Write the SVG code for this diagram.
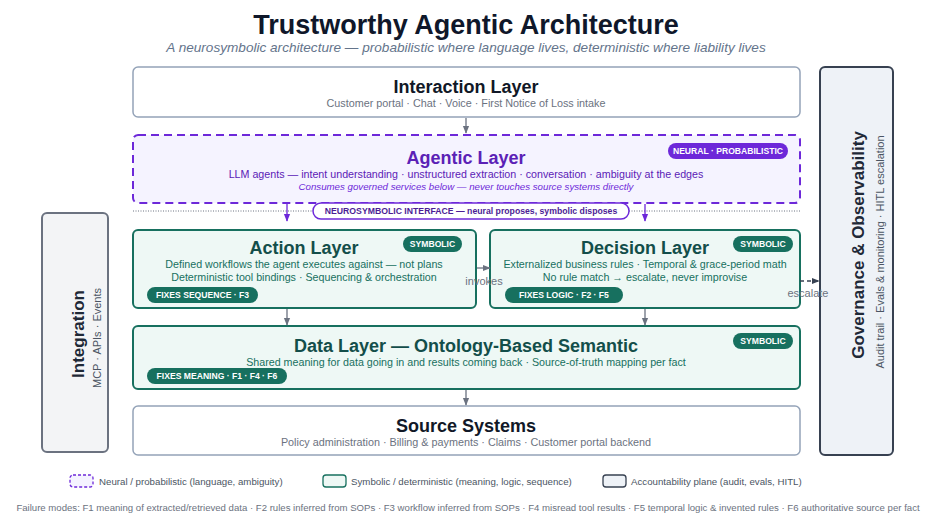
<svg xmlns="http://www.w3.org/2000/svg" width="935" height="526" viewBox="0 0 935 526">
<style>
text{font-family:"Liberation Sans",Arial,sans-serif}
.title{font-size:27px;font-weight:bold;fill:#0f172a;text-anchor:middle}
.subtitle{font-size:13.6px;font-style:italic;fill:#64748b;text-anchor:middle}
.plain{fill:#ffffff;stroke:#94a3b8;stroke-width:1.5}
.ptitle{font-size:18px;font-weight:bold;fill:#111827;text-anchor:middle}
.psub{font-size:10.8px;fill:#6b7280;text-anchor:middle}
.neural{fill:#f5f3ff;stroke:#6d28d9;stroke-width:2;stroke-dasharray:8 5}
.ntitle{font-size:18px;font-weight:bold;fill:#5b21b6;text-anchor:middle}
.nsub{font-size:10.7px;fill:#5b21b6;text-anchor:middle}
.nital{font-size:9.7px;font-style:italic;fill:#6d28d9;text-anchor:middle}
.sym{fill:#eef8f5;stroke:#17705f;stroke-width:2}
.stitle{font-size:18px;font-weight:bold;fill:#134e4a;text-anchor:middle}
.ssub{font-size:10.7px;fill:#17705f;text-anchor:middle}
.spill{fill:#17705f}
.pilltxt{font-size:8.6px;font-weight:bold;fill:#ffffff;text-anchor:middle}
.gov{fill:#eef2f7;stroke:#374151;stroke-width:2}
.integ{fill:#f3f4f6;stroke:#6b7280;stroke-width:2}
.vtitle{font-size:17px;font-weight:bold;fill:#1f2937;text-anchor:middle}
.vsub{font-size:11px;fill:#4b5563;text-anchor:middle}
.conn{stroke:#6b7280;stroke-width:1.3;fill:none}
.nconn{stroke:#6d28d9;stroke-width:1.3;fill:none}
.clabel{font-size:11px;fill:#6b7280;text-anchor:middle}
.legend{font-size:9.7px;fill:#4b5563}
.foot{font-size:9.6px;fill:#6b7280;text-anchor:middle}
</style>
<defs>
<marker id="ag" viewBox="0 0 10 10" refX="9" refY="5" markerWidth="6" markerHeight="6" orient="auto"><path d="M0,1 L10,5 L0,9 z" fill="#6b7280"/></marker>
<marker id="ap" viewBox="0 0 10 10" refX="9" refY="5" markerWidth="6" markerHeight="6" orient="auto"><path d="M0,1 L10,5 L0,9 z" fill="#6d28d9"/></marker>
<marker id="ad" viewBox="0 0 10 10" refX="9" refY="5" markerWidth="6" markerHeight="6" orient="auto"><path d="M0,1 L10,5 L0,9 z" fill="#374151"/></marker>
</defs>
<rect width="935" height="526" fill="#ffffff"/>
<text class="title" x="466" y="34">Trustworthy Agentic Architecture</text>
<text class="subtitle" x="466" y="52">A neurosymbolic architecture — probabilistic where language lives, deterministic where liability lives</text>

<g id="interaction">
<rect class="plain" x="133" y="67" width="667" height="50" rx="5"/>
<text class="ptitle" x="466" y="93">Interaction Layer</text>
<text class="psub" x="466" y="107">Customer portal · Chat · Voice · First Notice of Loss intake</text>
</g>

<g id="agentic">
<rect class="neural" x="133" y="135" width="667" height="68" rx="5"/>
<text class="ntitle" x="466" y="164">Agentic Layer</text>
<text class="nsub" x="466" y="178">LLM agents — intent understanding · unstructured extraction · conversation · ambiguity at the edges</text>
<text class="nital" x="466" y="190">Consumes governed services below — never touches source systems directly</text>
<rect x="668" y="143" width="120" height="16" rx="8" fill="#6d28d9"/>
<text class="pilltxt" x="728" y="154.3">NEURAL · PROBABILISTIC</text>
</g>

<g id="action">
<rect class="sym" x="133" y="230" width="343" height="78" rx="5"/>
<text class="stitle" x="304" y="254">Action Layer</text>
<text class="ssub" x="304" y="268">Defined workflows the agent executes against — not plans</text>
<text class="ssub" x="304" y="281">Deterministic tool bindings · Sequencing &amp; orchestration</text>
<rect class="spill" x="403" y="236" width="59" height="16" rx="8"/>
<text class="pilltxt" x="432.5" y="247.3">SYMBOLIC</text>
<rect class="spill" x="147" y="287" width="111" height="16" rx="8"/>
<text class="pilltxt" x="202.5" y="298.3">FIXES SEQUENCE · F3</text>
</g>

<g id="decision">
<rect class="sym" x="490" y="230" width="310" height="78" rx="5"/>
<text class="stitle" x="645" y="254">Decision Layer</text>
<text class="ssub" x="645" y="268">Externalized business rules · Temporal &amp; grace-period math</text>
<text class="ssub" x="645" y="281">No rule match → escalate, never improvise</text>
<rect class="spill" x="733" y="236" width="60" height="16" rx="8"/>
<text class="pilltxt" x="763" y="247.3">SYMBOLIC</text>
<rect class="spill" x="505" y="287" width="118" height="16" rx="8"/>
<text class="pilltxt" x="564" y="298.3">FIXES LOGIC · F2 · F5</text>
</g>

<g id="data">
<rect class="sym" x="133" y="326" width="667" height="63" rx="5"/>
<text class="stitle" x="466" y="352" font-size="17.5">Data Layer — Ontology-Based Semantic</text>
<text class="ssub" x="466" y="366">Shared meaning for data going in and results coming back · Source-of-truth mapping per fact</text>
<rect class="spill" x="733" y="333" width="60" height="16" rx="8"/>
<text class="pilltxt" x="763" y="344.3">SYMBOLIC</text>
<rect class="spill" x="147" y="368" width="140" height="16" rx="8"/>
<text class="pilltxt" x="217" y="379.3">FIXES MEANING · F1 · F4 · F6</text>
</g>

<g id="source">
<rect class="plain" x="133" y="406" width="667" height="49" rx="5"/>
<text class="ptitle" x="466" y="432">Source Systems</text>
<text class="psub" x="466" y="446">Policy administration · Billing &amp; payments · Claims · Customer portal backend</text>
</g>

<g id="integration">
<rect class="integ" x="42" y="213" width="66" height="239" rx="5"/>
<text class="vtitle" transform="translate(84,334) rotate(-90)">Integration</text>
<text class="vsub" transform="translate(101,338) rotate(-90)">MCP · APIs · Events</text>
</g>

<g id="governance">
<rect class="gov" x="820" y="67" width="73" height="388" rx="5"/>
<text class="vtitle" font-size="18.5" transform="translate(864,245) rotate(-90)">Governance &amp; Observability</text>
<text class="vsub" transform="translate(884,252) rotate(-90)">Audit trail · Evals &amp; monitoring · HITL escalation</text>
</g>

<g id="interface">
<line x1="133" y1="211" x2="313" y2="211" stroke="#6b7280" stroke-width="1" stroke-dasharray="1 1.5"/>
<line x1="629" y1="211" x2="800" y2="211" stroke="#6b7280" stroke-width="1" stroke-dasharray="1 1.5"/>
<rect x="313" y="203" width="316" height="16" rx="8" fill="#ffffff" stroke="#6d28d9" stroke-width="1.5"/>
<text x="471" y="214.3" font-size="8.7" font-weight="bold" fill="#4c1d95" text-anchor="middle">NEUROSYMBOLIC INTERFACE — neural proposes, symbolic disposes</text>
</g>

<g id="connectors">
<line class="conn" x1="466" y1="118" x2="466" y2="133" marker-end="url(#ag)"/>
<line class="nconn" x1="287" y1="204" x2="287" y2="221" marker-end="url(#ap)"/>
<line class="nconn" x1="645" y1="204" x2="645" y2="221" marker-end="url(#ap)"/>
<line class="conn" x1="477" y1="268" x2="490" y2="268" marker-end="url(#ag)"/>
<text class="clabel" x="484" y="285">invokes</text>
<line x1="800" y1="281" x2="819" y2="281" stroke="#374151" stroke-width="1.3" stroke-dasharray="4 3" marker-end="url(#ad)"/>
<text class="clabel" x="808" y="297">escalate</text>
<line class="conn" x1="287" y1="309" x2="287" y2="325" marker-end="url(#ag)"/>
<line class="conn" x1="645" y1="309" x2="645" y2="325" marker-end="url(#ag)"/>
<line class="conn" x1="466" y1="390" x2="466" y2="405" marker-end="url(#ag)"/>
</g>

<g id="legend">
<rect x="70" y="475" width="23" height="12" rx="3" fill="#f5f3ff" stroke="#6d28d9" stroke-width="1.3" stroke-dasharray="3 2"/>
<text class="legend" x="99" y="485">Neural / probabilistic (language, ambiguity)</text>
<rect x="323" y="475" width="23" height="12" rx="3" fill="#eef8f5" stroke="#17705f" stroke-width="1.3"/>
<text class="legend" x="351" y="485">Symbolic / deterministic (meaning, logic, sequence)</text>
<rect x="603" y="475" width="23" height="12" rx="3" fill="#eef2f7" stroke="#374151" stroke-width="1.3"/>
<text class="legend" x="631" y="485">Accountability plane (audit, evals, HITL)</text>
</g>

<text class="foot" x="468" y="511">Failure modes: F1 meaning of extracted/retrieved data · F2 rules inferred from SOPs · F3 workflow inferred from SOPs · F4 misread tool results · F5 temporal logic &amp; invented rules · F6 authoritative source per fact</text>
</svg>
